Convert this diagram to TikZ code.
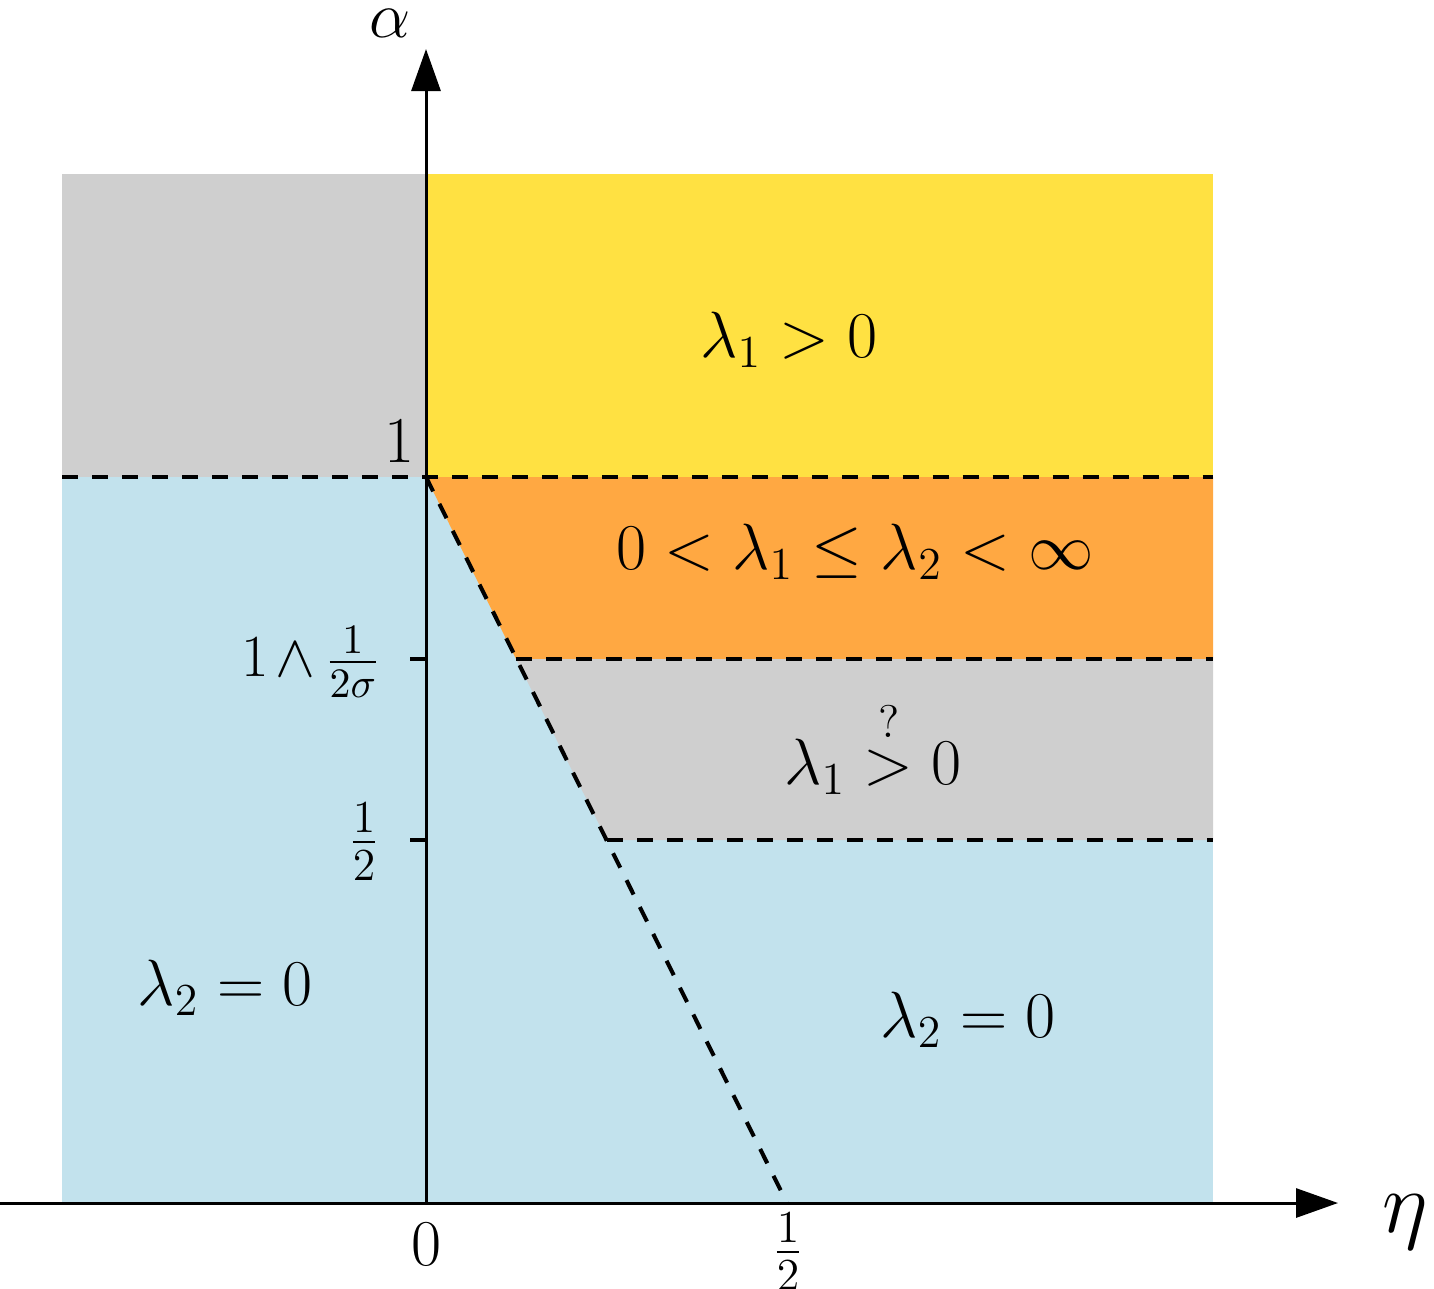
\RequirePackage{fix-cm}
\documentclass[tikz,border=0pt]{standalone}
\usepackage{amsmath}
\usetikzlibrary{arrows.meta}
\definecolor{cgray}{RGB}{207,207,207}
\definecolor{cyellow}{RGB}{255,225,66}
\definecolor{corange}{RGB}{255,168,66}
\definecolor{cblue}{RGB}{194,226,237}
\tikzset{
  bnd/.style={line width=1.15pt, dash pattern=on 0.16cm off 0.14cm},
  axis/.style={line width=0.85pt, -{Triangle[length=0.42cm,width=0.29cm]}},
  tick/.style={line width=1.15pt},
  lab/.style={inner sep=0pt, font=\fontsize{18.6}{22}\selectfont},
  smlab/.style={inner sep=0pt, font=\fontsize{17}{20}\selectfont},
  biglab/.style={inner sep=0pt, font=\fontsize{24.88}{30}\selectfont},
}
\begin{document}
\begin{tikzpicture}[x=0.01cm,y=-0.01cm]
\useasboundingbox (0,0) rectangle (1434,1288);
% regions
\fill[cgray] (62,174) rectangle (426,477);
\fill[cyellow] (426,174) rectangle (1213,477);
\fill[cblue] (62,477) rectangle (1213,1203);
\fill[corange] (426,477) -- (1213,477) -- (1213,659) -- (516,659) -- cycle;
\fill[cgray] (516,659) -- (1213,659) -- (1213,840) -- (607,840) -- cycle;
% key points
\coordinate (O) at (426,1203);
\coordinate (A1) at (426,477);
\coordinate (L1) at (62,477);
\coordinate (R1) at (1213,477);
\coordinate (P2) at (516,659);
\coordinate (R2) at (1213,659);
\coordinate (P3) at (607,840);
\coordinate (R3) at (1213,840);
\coordinate (H) at (787,1203);
\coordinate (T2) at (410,659);
\coordinate (Y2) at (426,659);
\coordinate (T3) at (410,840);
\coordinate (Y3) at (426,840);
\coordinate (Xs) at (0,1203);
\coordinate (Xe) at (1338,1203);
\coordinate (Ye) at (426,49);
% dashed boundaries
\draw[bnd] (L1) -- (R1);
\draw[bnd] (P2) -- (R2);
\draw[bnd] (P3) -- (R3);
\draw[bnd] (A1) -- (H);
% ticks
\draw[tick] (T2) -- (Y2);
\draw[tick] (T3) -- (Y3);
% axes
\draw[axis] (Xs) -- (Xe);
\draw[axis] (O) -- (Ye);
% labels
\node[lab] (la) at (390,23) {$\alpha$};
\node[biglab] (le) at (1405,1222) {$\eta$};
\node[lab] (l0) at (426,1244) {$0$};
\node[lab] (lh) at (788,1252) {$\tfrac{1}{2}$};
\node[lab] (l1) at (399,441) {$1$};
\node[smlab, anchor=east] (lw) at (381,662) {$1\mskip-2mu\wedge\mskip-1mu\tfrac{1}{2\sigma}$};
\node[lab] (lhalf) at (364,842) {$\tfrac{1}{2}$};
\node[lab] (ryel) at (789,340) {$\lambda_1>0$};
\node[lab] (rora) at (855,552) {$0<\lambda_1\le\lambda_2<\infty$};
\node[lab] (rgry) at (873,747) {$\lambda_1\stackrel{?}{>}0$};
\node[lab] (rbl) at (225,988) {$\lambda_2=0$};
\node[lab] (rbr) at (968,1020) {$\lambda_2=0$};
\end{tikzpicture}
\end{document}
